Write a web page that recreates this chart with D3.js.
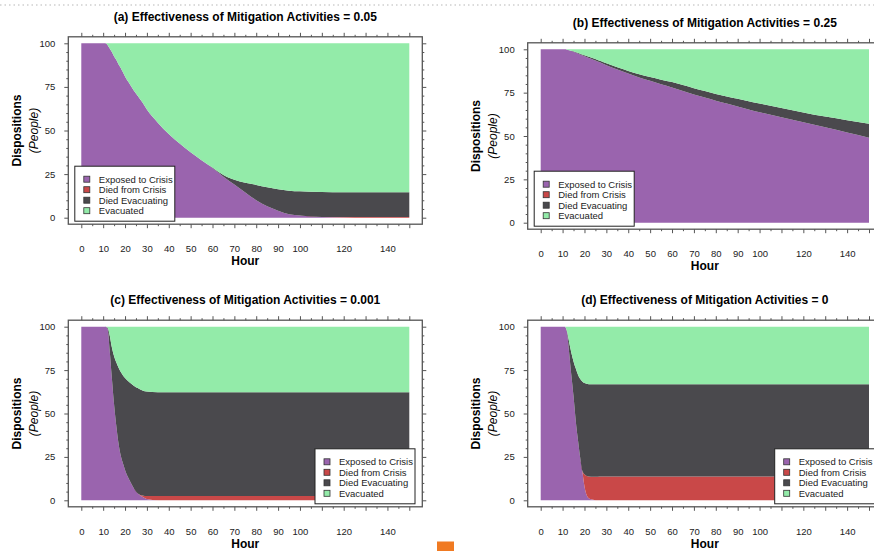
<!DOCTYPE html>
<html>
<head>
<meta charset="utf-8">
<script src="https://cdn.jsdelivr.net/npm/d3@7"></script>
<style>
  body { margin: 0; background: #fff; }
  svg { display: block; font-family: "Liberation Sans", Arial, Helvetica, sans-serif; }
</style>
</head>
<body>
<script>
const hours = [0, 5, 10, 11, 12, 13, 14, 15, 16, 17, 18, 19, 20, 22, 24, 26, 28, 30, 35, 40, 45, 50, 55, 60, 65, 70, 75, 80, 85, 90, 95, 100, 110, 120, 130, 140, 150];

const seriesNames = ['Exposed to Crisis', 'Died from Crisis', 'Died Evacuating', 'Evacuated'];
const titles = [
    '(a) Effectiveness of Mitigation Activities = 0.05',
    '(b) Effectiveness of Mitigation Activities = 0.25',
    '(c) Effectiveness of Mitigation Activities = 0.001',
    '(d) Effectiveness of Mitigation Activities = 0'
];
const xTickLabels = [0, 10, 20, 30, 40, 50, 60, 70, 80, 90, 100, 120, 140];
const yTickLabels = [0, 25, 50, 75, 100];

// (a) effectiveness 0.05
const exposedA    = [100, 100, 100, 100, 99, 97, 95, 92.5, 90.5, 88, 86, 83.5, 81, 77, 73, 69.5, 66, 62, 54.5, 48, 42.5, 37.5, 33, 28.5, 23.5, 19, 14.5, 10, 6.5, 4, 2, 1.2, 0.4, 0.1, 0, 0, 0];
const diedCrisisA = [0, 0, 0, 0, 0, 0, 0, 0, 0, 0, 0, 0, 0, 0, 0, 0, 0, 0, 0, 0, 0, 0, 0, 0, 0, 0, 0, 0, 0, 0, 0, 0, 0, 0.3, 0.4, 0.4, 0.4];
const diedEvacA   = [0, 0, 0, 0, 0, 0, 0, 0, 0, 0, 0, 0, 0, 0, 0, 0, 0, 0, 0, 0, 0, 0, 0, 0.3, 1, 2.8, 5.5, 8.8, 11, 12.3, 13.5, 13.9, 14.3, 14.2, 14.2, 14.2, 14.2];
const evacuatedA  = [0, 0, 0, 0, 1, 3, 5, 7.5, 9.5, 12, 14, 16.5, 19, 23, 27, 30.5, 34, 38, 45.5, 52, 57.5, 62.5, 67, 71.2, 75.5, 78.2, 80, 81.2, 82.5, 83.7, 84.5, 84.9, 85.3, 85.4, 85.4, 85.4, 85.4];

// (b) effectiveness 0.25
const exposedB    = [100, 100, 100, 100, 99.8, 99.4, 99, 98.6, 98.1, 97.6, 97, 96.5, 96, 95, 94, 93, 92, 90.8, 88.3, 86, 83.7, 81.8, 79.8, 78, 76, 74, 72.2, 70.4, 68.7, 67, 65.3, 63.7, 60.8, 58, 55, 52, 49];
const diedCrisisB = [0, 0, 0, 0, 0, 0, 0, 0, 0, 0, 0, 0, 0, 0, 0, 0, 0, 0, 0, 0, 0, 0, 0, 0, 0, 0, 0, 0, 0, 0, 0, 0, 0, 0, 0, 0, 0];
const diedEvacB   = [0, 0, 0, 0, 0, 0.1, 0.2, 0.3, 0.35, 0.4, 0.5, 0.55, 0.6, 0.7, 0.8, 0.9, 1, 1.1, 1.3, 1.5, 1.9, 2.2, 2.7, 3.1, 3.4, 3.6, 3.7, 3.8, 4.1, 4.5, 4.8, 5.1, 5.4, 5.6, 6.2, 7.1, 8];
const evacuatedB  = [0, 0, 0, 0, 0.2, 0.5, 0.8, 1.1, 1.55, 2, 2.5, 2.95, 3.4, 4.3, 5.2, 6.1, 7, 8.1, 10.4, 12.5, 14.4, 16, 17.5, 18.9, 20.6, 22.4, 24.1, 25.8, 27.2, 28.5, 29.9, 31.2, 33.8, 36.4, 38.8, 40.9, 43];

// (c) effectiveness 0.001
const exposedC    = [100, 100, 100, 100, 99, 86, 70, 55, 43, 33, 26, 21.5, 17.5, 11.7, 7, 3.8, 2, 0.7, 0, 0, 0, 0, 0, 0, 0, 0, 0, 0, 0, 0, 0, 0, 0, 0, 0, 0, 0];
const diedCrisisC = [0, 0, 0, 0, 0, 0, 0, 0, 0, 0, 0, 0, 0, 0, 0, 0, 0.8, 1.8, 2.5, 2.5, 2.5, 2.5, 2.5, 2.5, 2.5, 2.5, 2.5, 2.5, 2.5, 2.5, 2.5, 2.5, 2.5, 2.5, 2.5, 2.5, 2.5];
const diedEvacC   = [0, 0, 0, 0, 0.5, 9, 18, 28, 36.5, 43.5, 48, 50.5, 53, 56.3, 59, 60.7, 60.5, 60.2, 59.8, 59.8, 59.8, 59.8, 59.8, 59.8, 59.8, 59.8, 59.8, 59.8, 59.8, 59.8, 59.8, 59.8, 59.8, 59.8, 59.8, 59.8, 59.8];
const evacuatedC  = [0, 0, 0, 0, 0.5, 5, 12, 17, 20.5, 23.5, 26, 28, 29.5, 32, 34, 35.5, 36.7, 37.3, 37.7, 37.7, 37.7, 37.7, 37.7, 37.7, 37.7, 37.7, 37.7, 37.7, 37.7, 37.7, 37.7, 37.7, 37.7, 37.7, 37.7, 37.7, 37.7];

// (d) effectiveness 0
const exposedD    = [100, 100, 100, 100, 97, 85, 72, 60, 46, 35, 25, 17, 8, 1.2, 0.3, 0, 0, 0, 0, 0, 0, 0, 0, 0, 0, 0, 0, 0, 0, 0, 0, 0, 0, 0, 0, 0, 0];
const diedCrisisD = [0, 0, 0, 0, 0, 0, 0, 0, 0, 0, 0, 0, 7, 12.5, 13.3, 13.6, 13.7, 13.7, 13.7, 13.7, 13.7, 13.7, 13.7, 13.7, 13.7, 13.7, 13.7, 13.7, 13.7, 13.7, 13.7, 13.7, 13.7, 13.7, 13.7, 13.7, 13.7];
const diedEvacD   = [0, 0, 0, 0, 0.5, 6, 13, 20, 30, 37.5, 45, 51.5, 52.5, 53.2, 53.2, 53.2, 53.1, 53.1, 53.1, 53.1, 53.1, 53.1, 53.1, 53.1, 53.1, 53.1, 53.1, 53.1, 53.1, 53.1, 53.1, 53.1, 53.1, 53.1, 53.1, 53.1, 53.1];
const evacuatedD  = [0, 0, 0, 0, 2.5, 9, 15, 20, 24, 27.5, 30, 31.5, 32.5, 33.1, 33.2, 33.2, 33.2, 33.2, 33.2, 33.2, 33.2, 33.2, 33.2, 33.2, 33.2, 33.2, 33.2, 33.2, 33.2, 33.2, 33.2, 33.2, 33.2, 33.2, 33.2, 33.2, 33.2];

const colors = ['#9a64ae', '#c94848', '#4a494d', '#93eba9'];
const keys = ['exposed', 'diedCrisis', 'diedEvac', 'evacuated'];

const panels = [
    { title: titles[0], series: [exposedA, diedCrisisA, diedEvacA, evacuatedA], left: 81.3, right: 409.3, top: 43.3, bottom: 217.7, legend: 'left' },
    { title: titles[1], series: [exposedB, diedCrisisB, diedEvacB, evacuatedB], left: 540.7, right: 869, top: 49.3, bottom: 222.7, legend: 'left' },
    { title: titles[2], series: [exposedC, diedCrisisC, diedEvacC, evacuatedC], left: 81.3, right: 409.3, top: 326.7, bottom: 500.3, legend: 'right' },
    { title: titles[3], series: [exposedD, diedCrisisD, diedEvacD, evacuatedD], left: 540.7, right: 869, top: 326.7, bottom: 500.3, legend: 'right' }
];

const svg = d3.select('body').append('svg')
    .attr('width', 874)
    .attr('height', 551);

// dotted rule along the top of the page
svg.append('line')
    .attr('x1', 0).attr('x2', 874)
    .attr('y1', 5).attr('y2', 5)
    .attr('stroke', '#cfcfcf')
    .attr('stroke-width', 1.5)
    .attr('stroke-dasharray', '1.5,3');

const frameColor = '#555';

panels.forEach(p => {
    const x = d3.scaleLinear().domain([0, 150]).range([p.left, p.right]);
    const y = d3.scaleLinear().domain([0, 100]).range([p.bottom, p.top]);

    const table = hours.map((h, i) => ({
        hour: h,
        exposed: p.series[0][i],
        diedCrisis: p.series[1][i],
        diedEvac: p.series[2][i],
        evacuated: p.series[3][i]
    }));
    const layers = d3.stack().keys(keys)(table);

    const area = d3.area()
        .x(d => x(d.data.hour))
        .y0(d => y(d[0]))
        .y1(d => y(d[1]))
        .curve(d3.curveMonotoneX);

    const g = svg.append('g');
    g.selectAll('path.layer')
        .data(layers)
        .join('path')
        .attr('class', 'layer')
        .attr('fill', (d, i) => colors[i])
        .attr('d', area);

    // frame, padded a little around the data
    const fx0 = x(0) - 13, fx1 = x(150) + 13;
    const fy0 = y(100) - 6.5, fy1 = y(0) + 6.5;
    g.append('rect')
        .attr('x', fx0).attr('y', fy0)
        .attr('width', fx1 - fx0).attr('height', fy1 - fy0)
        .attr('fill', 'none')
        .attr('stroke', frameColor)
        .attr('stroke-width', 1.3);

    const style = sel => {
        sel.select('.domain').remove();
        sel.selectAll('line').attr('stroke', frameColor);
        sel.selectAll('text')
            .attr('fill', '#222')
            .style('font-size', '9.5px')
            .style('font-family', '"Liberation Sans", Arial, sans-serif');
    };
    const majorX = d3.range(0, 151, 10), minorX = d3.range(5, 150, 10);
    const majorY = yTickLabels, minorY = d3.range(0, 101, 5).filter(v => v % 25);

    g.append('g').attr('transform', `translate(0,${fy1})`)
        .call(d3.axisBottom(x).tickValues(majorX).tickSize(4).tickPadding(17)
            .tickFormat(v => xTickLabels.includes(v) ? v : ''))
        .call(style);
    g.append('g').attr('transform', `translate(0,${fy1})`)
        .call(d3.axisBottom(x).tickValues(minorX).tickSize(2).tickFormat(''))
        .call(style);
    g.append('g').attr('transform', `translate(0,${fy0})`)
        .call(d3.axisTop(x).tickValues(majorX).tickSize(4).tickFormat(''))
        .call(style);
    g.append('g').attr('transform', `translate(0,${fy0})`)
        .call(d3.axisTop(x).tickValues(minorX).tickSize(2).tickFormat(''))
        .call(style);
    g.append('g').attr('transform', `translate(${fx0},0)`)
        .call(d3.axisLeft(y).tickValues(majorY).tickSize(4).tickPadding(9))
        .call(style);
    g.append('g').attr('transform', `translate(${fx0},0)`)
        .call(d3.axisLeft(y).tickValues(minorY).tickSize(2).tickFormat(''))
        .call(style);
    g.append('g').attr('transform', `translate(${fx1},0)`)
        .call(d3.axisRight(y).tickValues(majorY).tickSize(4).tickFormat(''))
        .call(style);
    g.append('g').attr('transform', `translate(${fx1},0)`)
        .call(d3.axisRight(y).tickValues(minorY).tickSize(2).tickFormat(''))
        .call(style);

    const cx = (x(0) + x(150)) / 2, cy = (y(0) + y(100)) / 2;

    // titles
    g.append('text')
        .attr('x', cx).attr('y', y(100) - 27)
        .attr('dy', '0.35em')
        .attr('text-anchor', 'middle')
        .style('font-size', '12px').style('font-weight', 'bold')
        .text(p.title);

    g.append('text')
        .attr('x', cx).attr('y', y(0) + 43)
        .attr('dy', '0.35em')
        .attr('text-anchor', 'middle')
        .style('font-size', '12px').style('font-weight', 'bold')
        .text('Hour');

    g.append('text')
        .attr('transform', `translate(${x(0) - 65},${cy}) rotate(-90)`)
        .attr('dy', '0.35em')
        .attr('text-anchor', 'middle')
        .style('font-size', '12px').style('font-weight', 'bold')
        .text('Dispositions');

    g.append('text')
        .attr('transform', `translate(${x(0) - 48},${cy}) rotate(-90)`)
        .attr('dy', '0.35em')
        .attr('text-anchor', 'middle')
        .style('font-size', '12px').style('font-style', 'italic')
        .text('(People)');

    // legend
    const lw = 100, lh = 55;
    const lx = p.legend === 'left' ? fx0 + 6.5 : fx1 - 7.3 - lw;
    const ly = y(0) - 51.5;
    const lg = g.append('g').attr('transform', `translate(${lx},${ly})`);
    lg.append('rect')
        .attr('width', lw).attr('height', lh)
        .attr('fill', '#fff')
        .attr('stroke', '#222')
        .attr('stroke-width', 1);
    const rows = lg.selectAll('g.row')
        .data(seriesNames)
        .join('g')
        .attr('class', 'row')
        .attr('transform', (d, i) => `translate(0,${13 + i * 10.5})`);
    rows.append('rect')
        .attr('x', 9).attr('y', -3)
        .attr('width', 6).attr('height', 6)
        .attr('fill', (d, i) => colors[i])
        .attr('stroke', '#333')
        .attr('stroke-width', 0.8);
    rows.append('text')
        .attr('x', 24)
        .attr('dy', '0.35em')
        .style('font-size', '9.5px')
        .attr('fill', '#222')
        .text(d => d);
});

// orange marker near the bottom edge
svg.append('rect')
    .attr('x', 437).attr('y', 541.5)
    .attr('width', 17).attr('height', 10)
    .attr('fill', '#f07a22');
</script>
</body>
</html>
